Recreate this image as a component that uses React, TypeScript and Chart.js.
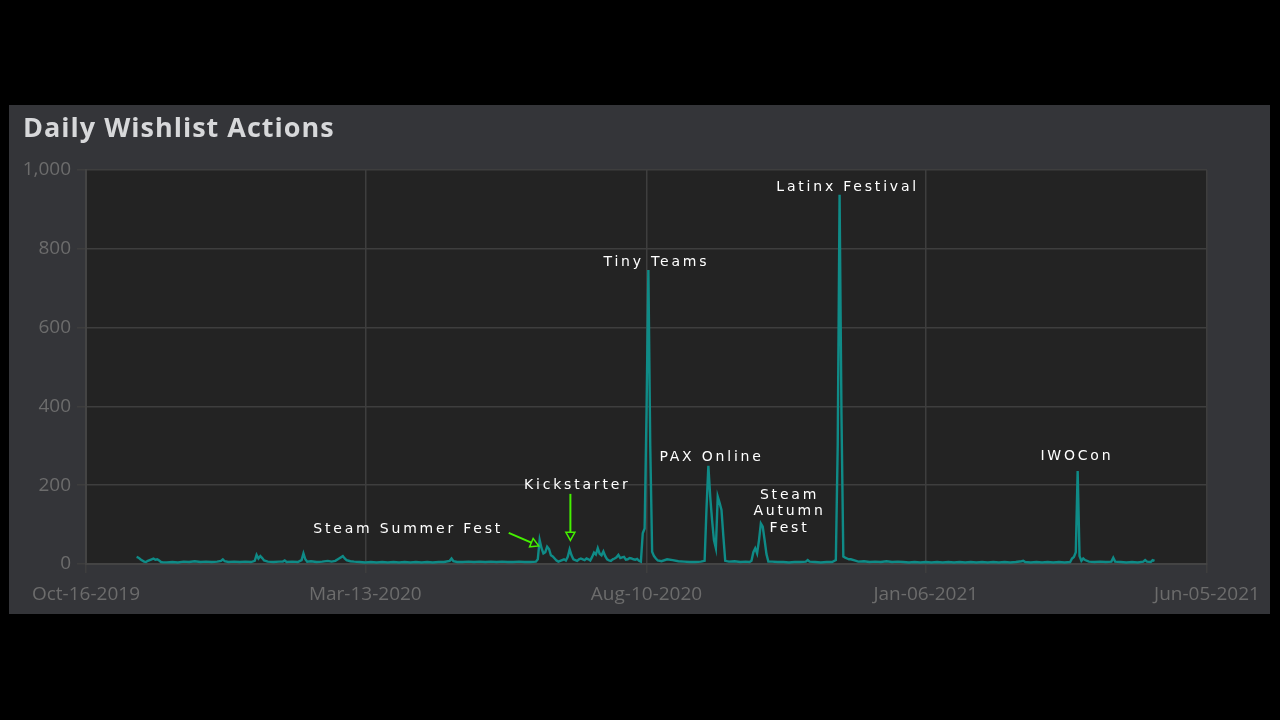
import React, { useEffect, useRef } from "react";
import { Chart, registerables } from "chart.js";

Chart.register(...registerables);

// Days since Oct-16-2019
const dayIndex = [
  27, 28, 29, 30, 31, 32, 33, 35, 36, 37,
  38, 39, 40, 41, 43, 46, 49, 52, 55, 58,
  61, 64, 67, 70, 72, 73, 74, 76, 79, 82,
  85, 88, 90, 91, 92, 93, 94, 95, 97, 100,
  103, 105, 106, 107, 110, 113, 115, 116, 117, 118,
  120, 123, 126, 129, 131, 133, 135, 137, 138, 139,
  141, 143, 146, 149, 152, 155, 158, 161, 164, 167,
  170, 173, 176, 179, 182, 185, 188, 191, 194, 195,
  196, 198, 201, 204, 207, 210, 213, 216, 219, 222,
  225, 228, 231, 234, 237, 240, 241, 242, 243, 244,
  245, 246, 247, 248, 249, 250, 251, 252, 253, 255,
  256, 257, 258, 259, 260, 261, 262, 263, 264, 265,
  266, 267, 268, 269, 270, 271, 272, 273, 274, 275,
  276, 277, 278, 279, 280, 281, 282, 283, 284, 285,
  286, 287, 288, 289, 290, 291, 292, 293, 294, 295,
  296, 297, 298, 299, 300, 301, 302, 303, 304, 305,
  307, 310, 313, 316, 319, 322, 325, 328, 330, 331,
  332, 333, 334, 335, 336, 337, 338, 339, 340, 341,
  343, 346, 349, 352, 354, 355, 356, 357, 358, 359,
  360, 361, 362, 363, 364, 366, 369, 372, 375, 378,
  381, 384, 385, 386, 389, 392, 395, 398, 400, 401,
  402, 403, 404, 405, 406, 407, 408, 410, 412, 415,
  418, 421, 424, 427, 430, 433, 436, 439, 442, 445,
  448, 451, 454, 457, 460, 463, 466, 469, 472, 475,
  478, 481, 484, 487, 490, 493, 496, 499, 500, 501,
  504, 507, 510, 513, 516, 519, 522, 525, 526, 527,
  528, 529, 530, 531, 532, 533, 535, 538, 541, 544,
  547, 548, 549, 552, 555, 558, 561, 564, 565, 566,
  568, 569, 570,
];

const wishlistActions = [
  18, 16, 12, 9, 6, 5, 8, 12, 14, 11,
  12, 9, 5, 4, 4, 5, 4, 6, 5, 7,
  5, 6, 5, 6, 8, 12, 7, 5, 6, 5,
  6, 5, 8, 23, 14, 20, 15, 9, 6, 5,
  6, 6, 9, 5, 6, 5, 10, 27, 12, 6,
  7, 5, 6, 8, 6, 8, 14, 20, 14, 10,
  7, 6, 5, 4, 5, 4, 5, 4, 5, 4,
  5, 4, 5, 4, 5, 4, 5, 5, 8, 14,
  7, 5, 5, 6, 5, 6, 5, 6, 5, 6,
  5, 5, 6, 5, 5, 6, 12, 61, 40, 27,
  30, 44, 38, 22, 19, 14, 9, 6, 8, 12,
  9, 18, 37, 22, 12, 10, 8, 12, 14, 12,
  10, 14, 12, 9, 18, 29, 24, 40, 26, 22,
  32, 20, 12, 9, 8, 12, 14, 17, 23, 15,
  17, 18, 11, 12, 15, 14, 12, 11, 13, 8,
  6, 78, 90, 380, 746, 300, 31, 20, 14, 9,
  7, 12, 10, 7, 6, 5, 5, 6, 8, 140,
  249, 170, 110, 60, 40, 171, 155, 137, 70, 8,
  6, 7, 5, 6, 5, 8, 30, 40, 27, 60,
  103, 95, 61, 25, 6, 6, 5, 5, 4, 5,
  5, 6, 10, 6, 5, 4, 5, 5, 10, 300,
  937, 380, 19, 16, 14, 12, 12, 9, 6, 7,
  5, 6, 5, 7, 5, 6, 5, 4, 5, 4,
  5, 4, 5, 4, 5, 4, 5, 4, 5, 4,
  5, 4, 5, 4, 5, 4, 5, 7, 8, 5,
  4, 5, 4, 5, 4, 5, 4, 5, 14, 18,
  30, 236, 20, 8, 14, 10, 6, 5, 6, 5,
  6, 16, 6, 5, 4, 5, 4, 6, 10, 6,
  5, 10, 8,
];

const tickDays = [0, 149, 299, 448, 598];
const tickLabels = ["Oct-16-2019", "Mar-13-2020", "Aug-10-2020", "Jan-06-2021", "Jun-05-2021"];
const yMax = 1000;
const yStep = 200;

const titleText = "Daily Wishlist Actions";

// Event labels anchored in data coordinates (day, value)
const eventLabels = [
  { lines: ["Steam Summer Fest"], day: 171.9, value: 88 },
  { lines: ["Kickstarter"], day: 262.1, value: 200 },
  { lines: ["Tiny Teams"], day: 304.3, value: 766 },
  { lines: ["PAX Online"], day: 333.7, value: 271 },
  { lines: ["Steam", "Autumn", "Fest"], day: 375.3, value: 175 },
  { lines: ["Latinx Festival"], day: 406.3, value: 957 },
  { lines: ["IWOCon"], day: 528.6, value: 274 },
];

const eventArrows = [
  { fromDay: 225.5, fromValue: 79, toDay: 241.5, toValue: 46 },
  { fromDay: 258.4, fromValue: 178, toDay: 258.4, toValue: 60 },
];

const annotationPlugin = {
  id: "annotations",
  beforeDraw(chart: any) {
    const { ctx, chartArea } = chart;
    ctx.save();
    ctx.fillStyle = "#232323";
    ctx.fillRect(chartArea.left, chartArea.top, chartArea.right - chartArea.left, chartArea.bottom - chartArea.top);
    ctx.restore();
  },
  afterDraw(chart: any) {
    const { ctx } = chart;
    const xs = chart.scales.x;
    const ys = chart.scales.y;
    ctx.save();
    // title
    ctx.fillStyle = "#d7d8da";
    ctx.font = "bold 27px 'Open Sans'";
    (ctx as any).letterSpacing = "1px";
    ctx.textAlign = "left";
    ctx.textBaseline = "alphabetic";
    ctx.fillText(titleText, 14, 32);

    // labels
    ctx.fillStyle = "#ffffff";
    ctx.font = "14px 'DejaVu Sans'";
    (ctx as any).letterSpacing = "2.8px";
    ctx.textAlign = "center";
    ctx.textBaseline = "middle";
    eventLabels.forEach((l) => {
      const x = xs.getPixelForValue(l.day);
      const y = ys.getPixelForValue(l.value);
      l.lines.forEach((line, i) => {
        ctx.fillText(line, x, y + i * 16.5);
      });
    });
    (ctx as any).letterSpacing = "0px";

    // arrows
    ctx.strokeStyle = "#44f000";
    ctx.fillStyle = "#44f000";
    ctx.lineWidth = 2;
    eventArrows.forEach((a) => {
      const x1 = xs.getPixelForValue(a.fromDay);
      const y1 = ys.getPixelForValue(a.fromValue);
      const x2 = xs.getPixelForValue(a.toDay);
      const y2 = ys.getPixelForValue(a.toValue);
      const ang = Math.atan2(y2 - y1, x2 - x1);
      const head = 8;
      const bx = x2 - head * Math.cos(ang);
      const by = y2 - head * Math.sin(ang);
      ctx.beginPath();
      ctx.moveTo(x1, y1);
      ctx.lineTo(bx, by);
      ctx.stroke();
      ctx.beginPath();
      ctx.moveTo(x2, y2);
      ctx.lineTo(bx + 4.5 * Math.sin(ang), by - 4.5 * Math.cos(ang));
      ctx.lineTo(bx - 4.5 * Math.sin(ang), by + 4.5 * Math.cos(ang));
      ctx.closePath();
      ctx.lineWidth = 1.5;
      ctx.stroke();
      ctx.lineWidth = 2;
    });
    ctx.restore();
  },
};

export default function App() {
  const canvasRef = useRef<HTMLCanvasElement | null>(null);

  useEffect(() => {
    document.body.style.margin = "0";
    document.body.style.background = "#000";
    if (!canvasRef.current) return;
    const points = dayIndex.map((d, i) => ({ x: d, y: wishlistActions[i] }));
    const chart = new Chart(canvasRef.current, {
      type: "line",
      data: {
        datasets: [
          {
            data: points,
            borderColor: "#0f8b87",
            borderWidth: 2.4,
            pointRadius: 0,
            tension: 0,
            fill: false,
          },
        ],
      },
      options: {
        responsive: false,
        animation: false,
        layout: { padding: { top: 65, right: 63, left: 0, bottom: 0 } },
        plugins: {
          legend: { display: false },
          tooltip: { enabled: false },
          title: { display: false },
        },
        scales: {
          x: {
            type: "linear",
            min: 0,
            max: 598,
            afterBuildTicks: (s: any) => {
              s.ticks = tickDays.map((v) => ({ value: v }));
            },
            afterFit: (s: any) => {
              s.height = 50;
            },
            ticks: {
              callback: (_v: any, i: number) => tickLabels[i],
              color: "#6c6c6c",
              font: { size: 19, family: "'Open Sans'" },
              maxRotation: 0,
              autoSkip: false,
              padding: 10,
            },
            grid: { color: "#3e3e3e", lineWidth: 1.5, tickLength: 9 },
            border: { color: "#444444", width: 2 },
          },
          y: {
            min: 0,
            max: yMax,
            afterFit: (s: any) => {
              s.width = 77;
            },
            ticks: {
              stepSize: yStep,
              callback: (v: any) => Number(v).toLocaleString("en-US"),
              color: "#6c6c6c",
              font: { size: 19, family: "'Open Sans'" },
              padding: 6,
            },
            grid: { color: "#3e3e3e", lineWidth: 1.5, tickLength: 9 },
            border: { color: "#444444", width: 2 },
          },
        },
      },
      plugins: [annotationPlugin],
    });
    return () => chart.destroy();
  }, []);

  return (
    <div style={{ position: "fixed", left: 0, top: 0, width: 1280, height: 720, background: "#000" }}>
      <div
        style={{
          position: "absolute",
          left: 9,
          top: 105,
          width: 1261,
          height: 509,
          background: "#343539",
        }}
      >
        <canvas ref={canvasRef} width={1261} height={509} style={{ display: "block" }} />
      </div>
    </div>
  );
}
